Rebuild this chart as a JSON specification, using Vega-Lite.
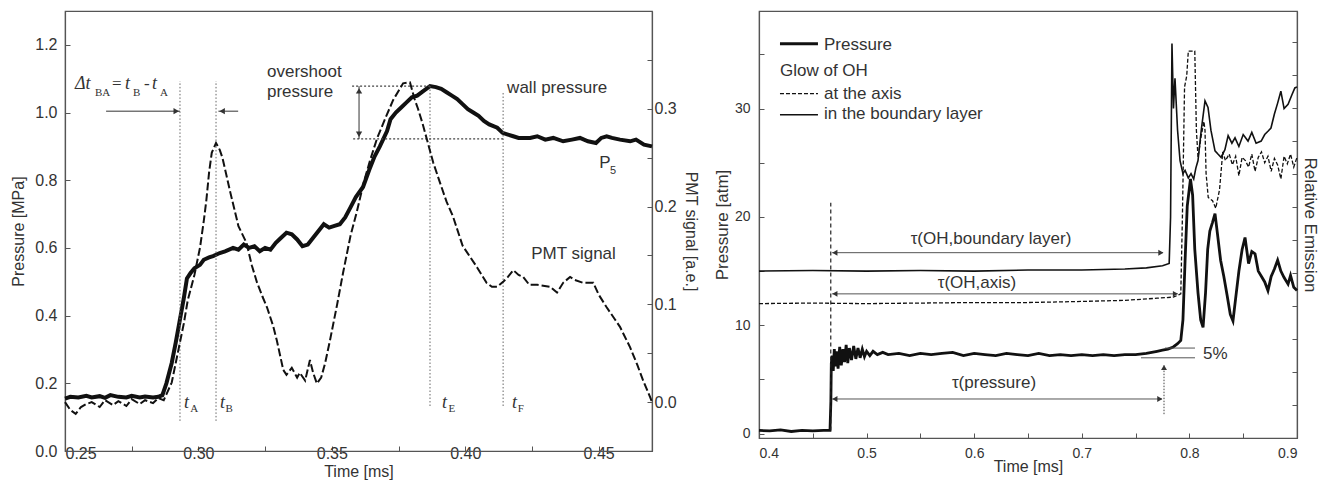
{
"$schema": "https://vega.github.io/schema/vega-lite/v6.json",
"padding": {"left": 9, "top": 10, "right": 5, "bottom": 2},
"spacing": 13,
"config": {
  "view": {"stroke": "#555", "strokeWidth": 1.2},
  "axis": {"domainColor": "#555", "tickColor": "#555", "labelColor": "#333", "titleColor": "#333", "labelFont": "Liberation Sans", "titleFont": "Liberation Sans", "titleFontWeight": "normal", "grid": false, "tickSize": -5, "domainWidth": 1.2}
},
"datasets": {
  "lp": [
    {"t":0.250,"p":0.155},{"t":0.252,"p":0.160},{"t":0.255,"p":0.158},{"t":0.258,"p":0.163},{"t":0.260,"p":0.158},{"t":0.263,"p":0.162},{"t":0.265,"p":0.157},{"t":0.267,"p":0.165},{"t":0.270,"p":0.160},{"t":0.273,"p":0.158},{"t":0.275,"p":0.163},{"t":0.278,"p":0.158},{"t":0.280,"p":0.161},{"t":0.283,"p":0.158},{"t":0.285,"p":0.160},{"t":0.2865,"p":0.165},{"t":0.288,"p":0.20},{"t":0.290,"p":0.26},{"t":0.2915,"p":0.32},{"t":0.293,"p":0.385},{"t":0.2945,"p":0.45},{"t":0.2957,"p":0.51},{"t":0.297,"p":0.525},{"t":0.2985,"p":0.54},{"t":0.3006,"p":0.55},{"t":0.302,"p":0.565},{"t":0.304,"p":0.572},{"t":0.3055,"p":0.576},{"t":0.308,"p":0.585},{"t":0.310,"p":0.59},{"t":0.313,"p":0.60},{"t":0.315,"p":0.595},{"t":0.317,"p":0.61},{"t":0.319,"p":0.60},{"t":0.321,"p":0.605},{"t":0.323,"p":0.59},{"t":0.325,"p":0.60},{"t":0.327,"p":0.595},{"t":0.329,"p":0.615},{"t":0.331,"p":0.63},{"t":0.333,"p":0.645},{"t":0.335,"p":0.64},{"t":0.337,"p":0.625},{"t":0.339,"p":0.605},{"t":0.341,"p":0.61},{"t":0.343,"p":0.63},{"t":0.345,"p":0.65},{"t":0.347,"p":0.67},{"t":0.349,"p":0.66},{"t":0.351,"p":0.665},{"t":0.353,"p":0.67},{"t":0.355,"p":0.69},{"t":0.357,"p":0.72},{"t":0.359,"p":0.75},{"t":0.3617,"p":0.78},{"t":0.364,"p":0.83},{"t":0.366,"p":0.87},{"t":0.368,"p":0.90},{"t":0.3707,"p":0.945},{"t":0.372,"p":0.98},{"t":0.374,"p":1.00},{"t":0.376,"p":1.015},{"t":0.378,"p":1.03},{"t":0.380,"p":1.045},{"t":0.382,"p":1.05},{"t":0.384,"p":1.062},{"t":0.3868,"p":1.078},{"t":0.389,"p":1.075},{"t":0.391,"p":1.07},{"t":0.393,"p":1.06},{"t":0.395,"p":1.05},{"t":0.397,"p":1.04},{"t":0.399,"p":1.025},{"t":0.401,"p":1.01},{"t":0.403,"p":1.00},{"t":0.405,"p":0.99},{"t":0.407,"p":0.975},{"t":0.409,"p":0.965},{"t":0.412,"p":0.955},{"t":0.414,"p":0.94},{"t":0.416,"p":0.935},{"t":0.418,"p":0.93},{"t":0.420,"p":0.925},{"t":0.4243,"p":0.925},{"t":0.427,"p":0.93},{"t":0.430,"p":0.92},{"t":0.433,"p":0.925},{"t":0.4367,"p":0.915},{"t":0.440,"p":0.92},{"t":0.443,"p":0.925},{"t":0.446,"p":0.915},{"t":0.449,"p":0.91},{"t":0.451,"p":0.925},{"t":0.453,"p":0.93},{"t":0.455,"p":0.925},{"t":0.458,"p":0.92},{"t":0.4618,"p":0.915},{"t":0.464,"p":0.92},{"t":0.467,"p":0.905},{"t":0.470,"p":0.90}
  ],
  "lq": [
    {"t":0.250,"q":0.000},{"t":0.252,"q":-0.008},{"t":0.254,"q":-0.012},{"t":0.256,"q":-0.005},{"t":0.258,"q":-0.002},{"t":0.260,"q":0.000},{"t":0.263,"q":-0.005},{"t":0.265,"q":0.002},{"t":0.268,"q":-0.003},{"t":0.270,"q":0.001},{"t":0.273,"q":-0.004},{"t":0.275,"q":0.003},{"t":0.278,"q":-0.002},{"t":0.280,"q":0.002},{"t":0.283,"q":-0.001},{"t":0.285,"q":0.004},{"t":0.287,"q":0.002},{"t":0.288,"q":0.008},{"t":0.290,"q":0.02},{"t":0.2915,"q":0.04},{"t":0.293,"q":0.06},{"t":0.2945,"q":0.08},{"t":0.296,"q":0.104},{"t":0.2985,"q":0.13},{"t":0.3006,"q":0.158},{"t":0.302,"q":0.185},{"t":0.303,"q":0.207},{"t":0.304,"q":0.235},{"t":0.305,"q":0.255},{"t":0.3066,"q":0.265},{"t":0.308,"q":0.258},{"t":0.309,"q":0.25},{"t":0.3105,"q":0.232},{"t":0.312,"q":0.214},{"t":0.3135,"q":0.197},{"t":0.315,"q":0.18},{"t":0.318,"q":0.163},{"t":0.320,"q":0.14},{"t":0.322,"q":0.122},{"t":0.324,"q":0.108},{"t":0.3257,"q":0.097},{"t":0.328,"q":0.078},{"t":0.3294,"q":0.063},{"t":0.3318,"q":0.033},{"t":0.333,"q":0.028},{"t":0.335,"q":0.035},{"t":0.337,"q":0.025},{"t":0.338,"q":0.03},{"t":0.340,"q":0.022},{"t":0.3418,"q":0.043},{"t":0.343,"q":0.03},{"t":0.3444,"q":0.019},{"t":0.346,"q":0.025},{"t":0.3475,"q":0.04},{"t":0.3493,"q":0.063},{"t":0.352,"q":0.10},{"t":0.3542,"q":0.132},{"t":0.357,"q":0.17},{"t":0.3594,"q":0.195},{"t":0.362,"q":0.225},{"t":0.3643,"q":0.247},{"t":0.367,"q":0.27},{"t":0.370,"q":0.29},{"t":0.373,"q":0.309},{"t":0.3767,"q":0.326},{"t":0.3793,"q":0.327},{"t":0.381,"q":0.31},{"t":0.3823,"q":0.30},{"t":0.384,"q":0.285},{"t":0.3857,"q":0.268},{"t":0.388,"q":0.245},{"t":0.3906,"q":0.224},{"t":0.393,"q":0.205},{"t":0.3954,"q":0.19},{"t":0.399,"q":0.16},{"t":0.4044,"q":0.138},{"t":0.408,"q":0.122},{"t":0.410,"q":0.118},{"t":0.412,"q":0.118},{"t":0.4142,"q":0.123},{"t":0.416,"q":0.128},{"t":0.418,"q":0.135},{"t":0.420,"q":0.13},{"t":0.4217,"q":0.128},{"t":0.424,"q":0.12},{"t":0.427,"q":0.12},{"t":0.4318,"q":0.118},{"t":0.4344,"q":0.112},{"t":0.4367,"q":0.122},{"t":0.4393,"q":0.128},{"t":0.441,"q":0.125},{"t":0.4442,"q":0.122},{"t":0.448,"q":0.122},{"t":0.450,"q":0.11},{"t":0.453,"q":0.097},{"t":0.456,"q":0.085},{"t":0.458,"q":0.077},{"t":0.4618,"q":0.056},{"t":0.4645,"q":0.038},{"t":0.4667,"q":0.022},{"t":0.4693,"q":0.005},{"t":0.470,"q":0.0}
  ],
  "rp": [
    {"t":0.400,"P":0.3},{"t":0.410,"P":0.25},{"t":0.420,"P":0.35},{"t":0.430,"P":0.2},{"t":0.440,"P":0.3},{"t":0.450,"P":0.25},{"t":0.460,"P":0.3},{"t":0.466,"P":0.3},{"t":0.4668,"P":3.0},{"t":0.4672,"P":6.5},{"t":0.468,"P":7.2},{"t":0.469,"P":5.8},{"t":0.470,"P":7.8},{"t":0.471,"P":6.2},{"t":0.472,"P":7.6},{"t":0.4735,"P":6.0},{"t":0.475,"P":8.0},{"t":0.4765,"P":6.3},{"t":0.478,"P":7.8},{"t":0.4795,"P":6.6},{"t":0.481,"P":8.2},{"t":0.4825,"P":6.5},{"t":0.484,"P":7.9},{"t":0.486,"P":6.8},{"t":0.488,"P":8.1},{"t":0.490,"P":6.9},{"t":0.492,"P":7.9},{"t":0.494,"P":7.0},{"t":0.496,"P":7.8},{"t":0.498,"P":7.1},{"t":0.500,"P":7.6},{"t":0.503,"P":7.2},{"t":0.506,"P":7.6},{"t":0.510,"P":7.3},{"t":0.515,"P":7.5},{"t":0.520,"P":7.3},{"t":0.530,"P":7.4},{"t":0.540,"P":7.2},{"t":0.550,"P":7.4},{"t":0.560,"P":7.3},{"t":0.570,"P":7.4},{"t":0.580,"P":7.5},{"t":0.590,"P":7.2},{"t":0.600,"P":7.4},{"t":0.610,"P":7.3},{"t":0.620,"P":7.2},{"t":0.630,"P":7.4},{"t":0.640,"P":7.3},{"t":0.650,"P":7.2},{"t":0.660,"P":7.4},{"t":0.670,"P":7.2},{"t":0.680,"P":7.3},{"t":0.690,"P":7.2},{"t":0.700,"P":7.3},{"t":0.710,"P":7.2},{"t":0.720,"P":7.3},{"t":0.730,"P":7.2},{"t":0.740,"P":7.3},{"t":0.750,"P":7.3},{"t":0.760,"P":7.4},{"t":0.770,"P":7.6},{"t":0.775,"P":7.7},{"t":0.780,"P":7.8},{"t":0.785,"P":8.0},{"t":0.789,"P":8.3},{"t":0.792,"P":8.6},{"t":0.794,"P":10.5},{"t":0.796,"P":16},{"t":0.798,"P":21},{"t":0.801,"P":23.5},{"t":0.803,"P":22},{"t":0.805,"P":17},{"t":0.808,"P":13},{"t":0.8105,"P":10.5},{"t":0.8127,"P":9.8},{"t":0.815,"P":13},{"t":0.817,"P":17},{"t":0.819,"P":18.7},{"t":0.8215,"P":19.5},{"t":0.8238,"P":20.3},{"t":0.826,"P":18.5},{"t":0.829,"P":16},{"t":0.832,"P":14.5},{"t":0.835,"P":12.8},{"t":0.838,"P":11},{"t":0.8405,"P":10.4},{"t":0.843,"P":12.5},{"t":0.846,"P":15},{"t":0.849,"P":17},{"t":0.8517,"P":18.1},{"t":0.855,"P":15.7},{"t":0.858,"P":16.8},{"t":0.861,"P":16.6},{"t":0.864,"P":15.0},{"t":0.867,"P":14.5},{"t":0.870,"P":14.0},{"t":0.873,"P":13.2},{"t":0.876,"P":14.5},{"t":0.879,"P":15.2},{"t":0.882,"P":16.0},{"t":0.885,"P":15.0},{"t":0.888,"P":14.4},{"t":0.8917,"P":13.8},{"t":0.894,"P":14.6},{"t":0.897,"P":13.5},{"t":0.900,"P":13.2}
  ],
  "rbl": [
    {"t":0.400,"P":15.0},{"t":0.45,"P":15.05},{"t":0.50,"P":15.0},{"t":0.55,"P":15.05},{"t":0.60,"P":15.0},{"t":0.65,"P":15.1},{"t":0.70,"P":15.1},{"t":0.74,"P":15.2},{"t":0.76,"P":15.3},{"t":0.775,"P":15.5},{"t":0.7812,"P":15.7},{"t":0.7825,"P":20},{"t":0.7838,"P":36.0},{"t":0.7852,"P":30},{"t":0.7866,"P":32.8},{"t":0.789,"P":28},{"t":0.7913,"P":25.2},{"t":0.794,"P":24.0},{"t":0.796,"P":24.3},{"t":0.799,"P":23.6},{"t":0.8015,"P":24.0},{"t":0.804,"P":23.5},{"t":0.806,"P":24.5},{"t":0.808,"P":25.2},{"t":0.811,"P":28},{"t":0.8145,"P":30.7},{"t":0.8173,"P":30.1},{"t":0.820,"P":28},{"t":0.8238,"P":26.1},{"t":0.8265,"P":25.8},{"t":0.8294,"P":25.5},{"t":0.833,"P":26.2},{"t":0.836,"P":27.5},{"t":0.8395,"P":26.8},{"t":0.8424,"P":27.3},{"t":0.846,"P":26.5},{"t":0.850,"P":27.6},{"t":0.8545,"P":27.0},{"t":0.858,"P":27.8},{"t":0.862,"P":26.8},{"t":0.8667,"P":27.0},{"t":0.870,"P":27.6},{"t":0.873,"P":27.9},{"t":0.8758,"P":28.2},{"t":0.879,"P":29.5},{"t":0.882,"P":30.5},{"t":0.885,"P":31.6},{"t":0.888,"P":30.0},{"t":0.8917,"P":30.4},{"t":0.895,"P":31.2},{"t":0.898,"P":31.9},{"t":0.900,"P":32.0}
  ],
  "rax": [
    {"t":0.400,"P":12.0},{"t":0.45,"P":12.05},{"t":0.50,"P":12.0},{"t":0.55,"P":12.05},{"t":0.60,"P":12.1},{"t":0.65,"P":12.1},{"t":0.70,"P":12.2},{"t":0.74,"P":12.3},{"t":0.77,"P":12.5},{"t":0.785,"P":12.6},{"t":0.790,"P":12.8},{"t":0.792,"P":12.9},{"t":0.7935,"P":20},{"t":0.7955,"P":32},{"t":0.7975,"P":33},{"t":0.799,"P":35.3},{"t":0.802,"P":35.3},{"t":0.805,"P":35.3},{"t":0.8065,"P":28},{"t":0.808,"P":25.5},{"t":0.811,"P":27.5},{"t":0.8135,"P":28.8},{"t":0.8145,"P":28},{"t":0.8155,"P":24},{"t":0.8175,"P":21.8},{"t":0.8215,"P":21.5},{"t":0.8245,"P":20.8},{"t":0.828,"P":22.5},{"t":0.831,"P":26},{"t":0.8335,"P":25.2},{"t":0.837,"P":25.8},{"t":0.840,"P":24.8},{"t":0.843,"P":25.6},{"t":0.846,"P":23.8},{"t":0.849,"P":25.5},{"t":0.852,"P":25.2},{"t":0.855,"P":24.6},{"t":0.858,"P":25.8},{"t":0.861,"P":24.2},{"t":0.864,"P":25.5},{"t":0.867,"P":26.0},{"t":0.870,"P":25.0},{"t":0.873,"P":25.6},{"t":0.876,"P":24.2},{"t":0.879,"P":25.4},{"t":0.882,"P":24.8},{"t":0.885,"P":23.5},{"t":0.888,"P":25.6},{"t":0.891,"P":24.9},{"t":0.894,"P":25.8},{"t":0.897,"P":24.6},{"t":0.900,"P":25.5}
  ]
},
"hconcat": [
  {
    "width": 587, "height": 440,
    "resolve": {"scale": {"y": "independent"}},
    "layer": [
      {
        "layer": [
          {
            "data": {"name": "lp"},
            "mark": {"type": "line", "color": "#111", "strokeWidth": 4},
            "encoding": {
              "x": {"field": "t", "type": "quantitative", "scale": {"domain": [0.25, 0.47], "nice": false, "zero": false},
                    "axis": {"title": "Time [ms]", "values": [0.25,0.275,0.3,0.325,0.35,0.375,0.4,0.425,0.45], "labelExpr": "round(datum.value*1000) % 50 == 0 ? format(datum.value, '.2f') : ''", "labelFontSize": 16, "titleFontSize": 16, "labelPadding": -1, "titlePadding": 2}},
              "y": {"field": "p", "type": "quantitative", "scale": {"domain": [0, 1.3], "nice": false, "zero": false},
                    "axis": {"title": "Pressure [MPa]", "orient": "left", "values": [0,0.1,0.2,0.3,0.4,0.5,0.6,0.7,0.8,0.9,1.0,1.1,1.2], "labelExpr": "round(datum.value*10) % 2 == 0 ? format(datum.value, '.1f') : ''", "labelFontSize": 16, "titleFontSize": 16, "labelPadding": 13, "minExtent": 30, "maxExtent": 30, "titlePadding": 9}}
            }
          },
          {
            "data": {"values": [{"t":0.2931,"p":0.089,"p2":1.093},{"t":0.3066,"p":0.089,"p2":1.093},{"t":0.3868,"p":0.133,"p2":1.078},{"t":0.4142,"p":0.133,"p2":1.06}]},
            "mark": {"type": "rule", "color": "#666", "strokeWidth": 1, "strokeDash": [1.5, 2]},
            "encoding": {"x": {"field": "t", "type": "quantitative"}, "y": {"field": "p", "type": "quantitative"}, "y2": {"field": "p2"}}
          },
          {
            "data": {"values": [{"t":0.3576,"t2":0.3868,"p":1.078},{"t":0.358,"t2":0.4142,"p":0.922}]},
            "mark": {"type": "rule", "color": "#444", "strokeWidth": 1.2, "strokeDash": [2, 2]},
            "encoding": {"x": {"field": "t", "type": "quantitative"}, "x2": {"field": "t2"}, "y": {"field": "p", "type": "quantitative"}}
          },
          {
            "data": {"values": [{"t":0.2654,"t2":0.2931,"p":1.004,"p2":1.004},{"t":0.3075,"t2":0.3149,"p":1.004,"p2":1.004},{"t":0.3602,"t2":0.3602,"p":0.922,"p2":1.078}]},
            "mark": {"type": "rule", "color": "#333", "strokeWidth": 1},
            "encoding": {"x": {"field": "t", "type": "quantitative"}, "x2": {"field": "t2"}, "y": {"field": "p", "type": "quantitative"}, "y2": {"field": "p2"}}
          },
          {
            "data": {"values": [{"t":0.2917,"p":1.004,"s":"triangle-right"},{"t":0.3089,"p":1.004,"s":"triangle-left"},{"t":0.3602,"p":1.064,"s":"triangle-up"},{"t":0.3602,"p":0.936,"s":"triangle-down"}]},
            "mark": {"type": "point", "filled": true, "color": "#333", "size": 40, "opacity": 1},
            "encoding": {"x": {"field": "t", "type": "quantitative"}, "y": {"field": "p", "type": "quantitative"}, "shape": {"field": "s", "type": "nominal", "scale": null, "legend": null}}
          },
          {
            "data": {"values": [{"t":0.3257,"p":1.105,"label":"overshoot"},{"t":0.3257,"p":1.045,"label":"pressure"},{"t":0.4157,"p":1.0576,"label":"wall pressure"},{"t":0.4247,"p":0.567,"label":"PMT signal"},{"t":0.4502,"p":0.836,"label":"P"}]},
            "mark": {"type": "text", "align": "left", "baseline": "alphabetic", "font": "Liberation Sans", "fontSize": 17, "color": "#333"},
            "encoding": {"x": {"field": "t", "type": "quantitative"}, "y": {"field": "p", "type": "quantitative"}, "text": {"field": "label"}}
          },
          {
            "data": {"values": [{"t":0.4543,"p":0.818,"label":"5"}]},
            "mark": {"type": "text", "align": "left", "baseline": "alphabetic", "font": "Liberation Sans", "fontSize": 11, "color": "#333"},
            "encoding": {"x": {"field": "t", "type": "quantitative"}, "y": {"field": "p", "type": "quantitative"}, "text": {"field": "label"}}
          },
          {
            "data": {"values": [{"t":0.25375,"p":1.069,"label":"Δt"},{"t":0.27249,"p":1.069,"label":"t"},{"t":0.28261,"p":1.069,"label":"t"},{"t":0.2946,"p":0.127,"label":"t"},{"t":0.3081,"p":0.127,"label":"t"},{"t":0.3913,"p":0.127,"label":"t"},{"t":0.4175,"p":0.127,"label":"t"}]},
            "mark": {"type": "text", "align": "left", "baseline": "alphabetic", "font": "Liberation Serif", "fontStyle": "italic", "fontSize": 18, "color": "#333"},
            "encoding": {"x": {"field": "t", "type": "quantitative"}, "y": {"field": "p", "type": "quantitative"}, "text": {"field": "label"}}
          },
          {
            "data": {"values": [{"t":0.26762,"p":1.069,"label":"="},{"t":0.27961,"p":1.069,"label":"-"}]},
            "mark": {"type": "text", "align": "left", "baseline": "alphabetic", "font": "Liberation Serif", "fontSize": 17, "color": "#333"},
            "encoding": {"x": {"field": "t", "type": "quantitative"}, "y": {"field": "p", "type": "quantitative"}, "text": {"field": "label"}}
          },
          {
            "data": {"values": [{"t":0.26124,"p":1.049,"label":"BA"},{"t":0.27549,"p":1.049,"label":"B"},{"t":0.28561,"p":1.049,"label":"A"},{"t":0.2969,"p":0.115,"label":"A"},{"t":0.3102,"p":0.115,"label":"B"},{"t":0.3937,"p":0.115,"label":"E"},{"t":0.4197,"p":0.115,"label":"F"}]},
            "mark": {"type": "text", "align": "left", "baseline": "alphabetic", "font": "Liberation Serif", "fontSize": 11, "color": "#333"},
            "encoding": {"x": {"field": "t", "type": "quantitative"}, "y": {"field": "p", "type": "quantitative"}, "text": {"field": "label"}}
          }
        ]
      },
      {
        "data": {"name": "lq"},
        "mark": {"type": "line", "color": "#111", "strokeWidth": 2, "strokeDash": [8, 3]},
        "encoding": {
          "x": {"field": "t", "type": "quantitative"},
          "y": {"field": "q", "type": "quantitative", "scale": {"domain": [-0.05, 0.4], "nice": false, "zero": false},
                "axis": {"title": "PMT signal [a.e.]", "orient": "right", "values": [0,0.05,0.1,0.15,0.2,0.25,0.3,0.35], "labelExpr": "round(datum.value*100) % 10 == 0 ? format(datum.value, '.1f') : ''", "labelFontSize": 16, "titleFontSize": 16, "labelPadding": 7, "minExtent": 26, "maxExtent": 26, "titlePadding": 4}}
        }
      }
    ]
  },
  {
    "width": 538, "height": 427,
    "resolve": {"scale": {"y": "independent"}},
    "layer": [
      {
        "layer": [
          {
            "data": {"name": "rbl"},
            "mark": {"type": "line", "color": "#111", "strokeWidth": 1.6},
            "encoding": {
              "x": {"field": "t", "type": "quantitative", "scale": {"domain": [0.4, 0.9], "nice": false, "zero": false},
                    "axis": {"title": "Time [ms]", "values": [0.4,0.45,0.5,0.55,0.6,0.65,0.7,0.75,0.8,0.85,0.9], "labelExpr": "round(datum.value*100) % 10 == 0 ? format(datum.value, '.1f') : ''", "labelFontSize": 14, "titleFontSize": 16, "labelPadding": 13, "titlePadding": -2}},
              "y": {"field": "P", "type": "quantitative", "scale": {"domain": [-0.4, 39], "nice": false, "zero": false},
                    "axis": {"title": "Pressure [atm]", "orient": "left", "values": [0,5,10,15,20,25,30,35], "labelExpr": "datum.value % 10 == 0 ? datum.label : ''", "labelFontSize": 14, "titleFontSize": 17, "labelPadding": 14, "minExtent": 25, "maxExtent": 25, "titlePadding": 3}}
            }
          },
          {
            "data": {"name": "rax"},
            "mark": {"type": "line", "color": "#111", "strokeWidth": 1.3, "strokeDash": [4, 2]},
            "encoding": {"x": {"field": "t", "type": "quantitative"}, "y": {"field": "P", "type": "quantitative"}}
          },
          {
            "data": {"name": "rp"},
            "mark": {"type": "line", "color": "#111", "strokeWidth": 2.8},
            "encoding": {"x": {"field": "t", "type": "quantitative"}, "y": {"field": "P", "type": "quantitative"}}
          },
          {
            "data": {"values": [{"t":0.4667,"P":0.3,"P2":21.3}]},
            "mark": {"type": "rule", "color": "#222", "strokeWidth": 1.2, "strokeDash": [4, 3]},
            "encoding": {"x": {"field": "t", "type": "quantitative"}, "y": {"field": "P", "type": "quantitative"}, "y2": {"field": "P2"}}
          },
          {
            "data": {"values": [{"t":0.468,"t2":0.7755,"P":16.7},{"t":0.468,"t2":0.789,"P":12.9},{"t":0.468,"t2":0.7745,"P":3.2},{"t":0.7773,"t2":0.8052,"P":7.9},{"t":0.755,"t2":0.8052,"P":7.0}]},
            "mark": {"type": "rule", "color": "#555", "strokeWidth": 1},
            "encoding": {"x": {"field": "t", "type": "quantitative"}, "x2": {"field": "t2"}, "y": {"field": "P", "type": "quantitative"}}
          },
          {
            "data": {"values": [{"t":0.7764,"P":1.8,"P2":6.3}]},
            "mark": {"type": "rule", "color": "#444", "strokeWidth": 1, "strokeDash": [1.5, 1.5]},
            "encoding": {"x": {"field": "t", "type": "quantitative"}, "y": {"field": "P", "type": "quantitative"}, "y2": {"field": "P2"}}
          },
          {
            "data": {"values": [{"t":0.4705,"P":16.7,"s":"triangle-left"},{"t":0.7735,"P":16.7,"s":"triangle-right"},{"t":0.4705,"P":12.9,"s":"triangle-left"},{"t":0.787,"P":12.9,"s":"triangle-right"},{"t":0.4705,"P":3.2,"s":"triangle-left"},{"t":0.7725,"P":3.2,"s":"triangle-right"},{"t":0.7764,"P":6.1,"s":"triangle-up"}]},
            "mark": {"type": "point", "filled": true, "color": "#333", "size": 35, "opacity": 1},
            "encoding": {"x": {"field": "t", "type": "quantitative"}, "y": {"field": "P", "type": "quantitative"}, "shape": {"field": "s", "type": "nominal", "scale": null, "legend": null}}
          },
          {
            "data": {"values": [{"t":0.4195,"t2":0.4548,"P":35.98}]},
            "mark": {"type": "rule", "color": "#111", "strokeWidth": 2.8},
            "encoding": {"x": {"field": "t", "type": "quantitative"}, "x2": {"field": "t2"}, "y": {"field": "P", "type": "quantitative"}}
          },
          {
            "data": {"values": [{"t":0.4195,"t2":0.4548,"P":31.37}]},
            "mark": {"type": "rule", "color": "#111", "strokeWidth": 1.3, "strokeDash": [4, 2]},
            "encoding": {"x": {"field": "t", "type": "quantitative"}, "x2": {"field": "t2"}, "y": {"field": "P", "type": "quantitative"}}
          },
          {
            "data": {"values": [{"t":0.4195,"t2":0.4548,"P":29.43}]},
            "mark": {"type": "rule", "color": "#111", "strokeWidth": 1.6},
            "encoding": {"x": {"field": "t", "type": "quantitative"}, "x2": {"field": "t2"}, "y": {"field": "P", "type": "quantitative"}}
          },
          {
            "data": {"values": [{"t":0.6156,"P":17.5,"label":"τ(OH,boundary layer)"},{"t":0.6026,"P":13.4,"label":"τ(OH,axis)"},{"t":0.6184,"P":4.25,"label":"τ(pressure)"}]},
            "mark": {"type": "text", "align": "center", "baseline": "alphabetic", "font": "Liberation Sans", "fontSize": 17, "color": "#333"},
            "encoding": {"x": {"field": "t", "type": "quantitative"}, "y": {"field": "P", "type": "quantitative"}, "text": {"field": "label"}}
          },
          {
            "data": {"values": [{"t":0.8126,"P":6.9,"label":"5%"},{"t":0.4604,"P":35.4,"label":"Pressure"},{"t":0.4195,"P":33.0,"label":"Glow of OH"},{"t":0.4604,"P":30.9,"label":"at the axis"},{"t":0.4604,"P":29.0,"label":"in the boundary layer"}]},
            "mark": {"type": "text", "align": "left", "baseline": "alphabetic", "font": "Liberation Sans", "fontSize": 17, "color": "#333"},
            "encoding": {"x": {"field": "t", "type": "quantitative"}, "y": {"field": "P", "type": "quantitative"}, "text": {"field": "label"}}
          }
        ]
      },
      {
        "data": {"values": [{"t":0.5,"e":1}]},
        "mark": {"type": "point", "opacity": 0},
        "encoding": {
          "x": {"field": "t", "type": "quantitative"},
          "y": {"field": "e", "type": "quantitative", "scale": {"domain": [0, 12.94], "nice": false, "zero": false},
                "axis": {"title": "Relative Emission", "orient": "right", "values": [1,2,3,4,5,6,7,8,9,10,11,12], "labels": false, "titleFontSize": 17, "minExtent": 0, "maxExtent": 0, "titlePadding": 3}}
        }
      }
    ]
  }
]
}
